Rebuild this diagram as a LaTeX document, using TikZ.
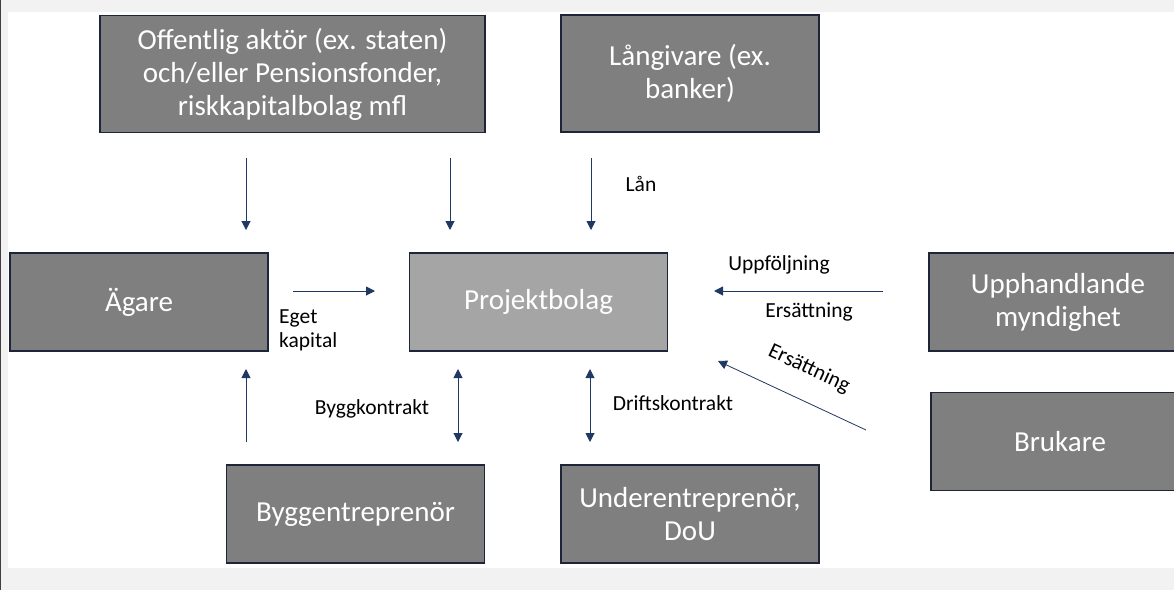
\documentclass[tikz,border=0pt]{standalone}
\usepackage{fontspec}
\setmainfont{Carlito}
\usetikzlibrary{arrows.meta}
\definecolor{boxgray}{HTML}{7F7F7F}
\definecolor{projgray}{HTML}{A5A5A5}
\definecolor{boxline}{HTML}{1C2638}
\definecolor{arrowblue}{HTML}{203864}
\definecolor{pagegray}{HTML}{F2F2F2}
\begin{document}
\begin{tikzpicture}[x=1pt,y=-1pt,
	box/.style={rectangle,draw=boxline,line width=1.5pt,fill=boxgray,text=white,font=\fontsize{29}{33}\selectfont,align=center,inner sep=0pt,minimum width=258pt,minimum height=98pt},
	lbl/.style={font=\fontsize{21.5}{24}\selectfont,text=black,inner sep=0pt,align=left},
	flow/.style={-{Triangle[length=9pt,width=9pt]},line width=1pt,color=arrowblue},
	both/.style={{Triangle[length=9pt,width=9pt]}-{Triangle[length=9pt,width=9pt]},line width=1pt,color=arrowblue}]
	\useasboundingbox (0,0) rectangle (1174,590);
	\fill [pagegray] (0,0) rectangle (1174,590);
	\fill [white] (8,12) rectangle (1174,568);
	\draw [line width=1pt,color=black!75] (0.5,0)--(0.5,590);

	% aktorer
	\node (offentlig) [box,minimum width=385pt,minimum height=117pt] at (292.5,74) {Offentlig aktör (ex. staten)\\och/eller Pensionsfonder,\\riskkapitalbolag mfl};
	\node (langivare) [box,minimum height=117pt] at (690,73.5) {Långivare (ex.\\banker)};
	\node (agare) [box] at (139,302) {Ägare};
	\node (projekt) [box,fill=projgray] at (538.5,302) {Projektbolag};
	\node (upphandl) [box] at (1058,302) {Upphandlande\\myndighet};
	\node (brukare) [box] at (1060,441.5) {Brukare};
	\node (bygg) [box] at (355.5,514) {Byggentreprenör};
	\node (under) [box] at (690,514) {Underentreprenör,\\DoU};

	% pilarnas ändpunkter
	\coordinate (a1s) at (246,158); \coordinate (a1e) at (246,230);
	\coordinate (a2s) at (450,158); \coordinate (a2e) at (450,230);
	\coordinate (a3s) at (591,158); \coordinate (a3e) at (591,230);
	\coordinate (a4s) at (293,291); \coordinate (a4e) at (375,291);
	\coordinate (a5s) at (883,291); \coordinate (a5e) at (714,291);
	\coordinate (a6s) at (866,430); \coordinate (a6e) at (718,361);
	\coordinate (a7s) at (246,442); \coordinate (a7e) at (246,369);
	\coordinate (a8s) at (458,369); \coordinate (a8e) at (458,442);
	\coordinate (a9s) at (590,369); \coordinate (a9e) at (590,442);

	\draw [flow] (a1s)--(a1e);
	\draw [flow] (a2s)--(a2e);
	\draw [flow] (a3s)--(a3e);
	\draw [flow] (a4s)--(a4e);
	\draw [flow] (a5s)--(a5e);
	\draw [flow,line width=0.8pt] (a6s)--(a6e);
	\draw [flow] (a7s)--(a7e);
	\draw [both] (a8s)--(a8e);
	\draw [both] (a9s)--(a9e);

	% etiketter
	\node (lan) [lbl] at (641,184) {Lån};
	\node (eget) [lbl,anchor=west] at (279,330) {Eget\\kapital};
	\node (uppf) [lbl] at (779,265) {Uppföljning};
	\node (ers1) [lbl] at (809,312) {Ersättning};
	\node (ers2) [lbl,rotate=-25] at (809,369) {Ersättning};
	\node (byggk) [lbl] at (372,409) {Byggkontrakt};
	\node (driftk) [lbl] at (673,403) {Driftskontrakt};
\end{tikzpicture}
\end{document}
